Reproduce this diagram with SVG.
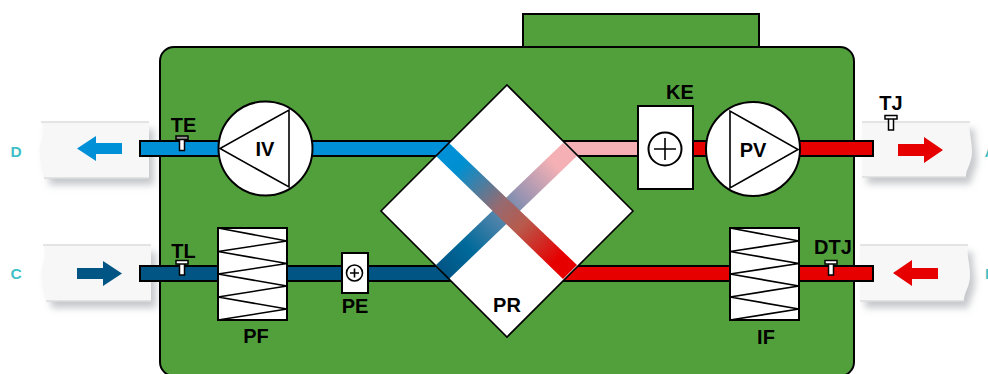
<svg xmlns="http://www.w3.org/2000/svg" xmlns:xlink="http://www.w3.org/1999/xlink" width="988" height="374" viewBox="0 0 988 374">
<style>
text{font-family:"Liberation Sans",Arial,sans-serif;font-weight:700;font-size:20px;fill:#000;text-anchor:middle}
.port{font-size:15.5px;fill:#3fbfc6;text-anchor:start}
.box{fill:#fff;stroke:#000;stroke-width:2}
.line{fill:none;stroke:#000;stroke-width:2;stroke-linejoin:miter}
.thin{fill:none;stroke:#000;stroke-width:1.600;stroke-linejoin:miter}
.green{fill:#52a03c;stroke:#000;stroke-width:2}
.panel{fill:#f7f7f7}
.edge{fill:none;stroke:#dcdddd;stroke-width:1.500}
.duct{stroke:#000;stroke-width:2}
.cold{fill:#0090d8}.dark{fill:#005585}.red{fill:#e60000}.pink{fill:#f4b0b4}
.thead{fill:#fff;stroke:#000;stroke-width:1.500}
.tstem{fill:#fff;stroke:#000;stroke-width:1.500}
</style>
<defs>
<filter id="sh" x="-20%" y="-30%" width="140%" height="170%">
<feGaussianBlur in="SourceAlpha" stdDeviation="3.500"/>
<feOffset dx="5" dy="7"/>
<feColorMatrix values="0 0 0 0 .45 0 0 0 0 .47 0 0 0 0 .5 0 0 0 .75 0"/>
<feMerge><feMergeNode/><feMergeNode in="SourceGraphic"/></feMerge>
</filter>
<linearGradient id="g1" gradientUnits="userSpaceOnUse" x1="443" y1="150" x2="570" y2="272">
<stop offset="0" stop-color="#0090d8"/><stop offset=".14" stop-color="#0090d0"/><stop offset=".45" stop-color="#976a70"/><stop offset=".62" stop-color="#b85a4c"/><stop offset=".9" stop-color="#e60000"/><stop offset="1" stop-color="#e60000"/>
</linearGradient>
<linearGradient id="g2" gradientUnits="userSpaceOnUse" x1="443" y1="272" x2="570" y2="150">
<stop offset="0" stop-color="#005585"/><stop offset=".2" stop-color="#006a9a"/><stop offset=".45" stop-color="#5585ab"/><stop offset=".62" stop-color="#9a94b2"/><stop offset=".88" stop-color="#f4b0b4"/><stop offset="1" stop-color="#f4b0b4"/>
</linearGradient>
<clipPath id="dc"><path d="M507 85L633 211L507 337L381 211Z"/></clipPath>
<path id="zig" d="M0 0L69 13L0 23.500L69 35.500L0 46L69 58L0 69L69 81L0 92"/>
</defs>

<g id="panels">
<path class="panel" filter="url(#sh)" d="M41 122H149V178H44C46 172 39.500 162 39.500 150C39.500 140 46 134 41 122Z"/>
<path class="edge" d="M41 122H149M44 178H149"/>
<path class="panel" filter="url(#sh)" d="M43 245H151V301H46C48 295 41.500 285 41.500 273C41.500 263 48 257 43 245Z"/>
<path class="edge" d="M43 245H151M46 301H151"/>
<path class="panel" filter="url(#sh)" d="M862 122H970C968 130 972 140 972 152C972 164 965 170 966 177H862Z"/>
<path class="edge" d="M862 122H970M862 177H966"/>
<path class="panel" filter="url(#sh)" d="M860 245H968C966 253 970 263 970 275C970 287 963 294 964 301H860Z"/>
<path class="edge" d="M860 245H968M860 301H964"/>
</g>

<g id="cabinet">
<rect class="green" x="523" y="14" width="236" height="34"/>
<rect class="green" x="160" y="47" width="694" height="329" rx="14"/>
</g>

<g id="connectors">
<rect class="duct cold" x="140" y="141" width="310" height="15"/>
<rect class="duct dark" x="140" y="266" width="310" height="15"/>
<rect class="duct pink" x="560" y="141" width="80" height="15"/>
<rect class="duct red" x="690" y="141" width="183" height="15"/>
<rect class="duct red" x="560" y="266" width="313" height="15"/>
</g>

<g id="arrows">
<path class="cold" d="M77 148.500L96 136V143H122V154H96V161Z"/>
<path class="dark" d="M77 268H103V261L122 273.500L103 286V279H77Z"/>
<path class="red" d="M898 144H924V137L943 150L924 163V156H898Z"/>
<path class="red" d="M893 273L912 260V268H938V279H912V286Z"/>
</g>

<g id="PR">
<path fill="#fff" d="M507 85L633 211L507 337L381 211Z"/>
<g clip-path="url(#dc)">
<path fill="url(#g2)" d="M563 143L577 156L449 279L436 265Z"/>
<path fill="url(#g1)" d="M449 143L436 156L563 279L577 265Z"/>
</g>
<path class="thin" d="M507 85L633 211L507 337L381 211Z"/>
<text x="507" y="312">PR</text>
</g>

<g id="IV">
<circle class="box" cx="265.500" cy="148.500" r="47"/>
<path class="thin" d="M289 110V187L220 148.500Z"/>
<text x="265" y="156">IV</text>
</g>

<g id="PV">
<circle class="box" cx="753" cy="149" r="47"/>
<path class="thin" d="M730 111V188L798 149.500Z"/>
<text x="753" y="157">PV</text>
</g>

<g id="KE">
<rect class="box" x="638" y="106" width="55" height="83"/>
<circle class="line" cx="665" cy="149" r="16.500"/>
<path class="thin" d="M654 149H676M665 138V160"/>
<text x="680" y="99">KE</text>
</g>

<g id="PE">
<rect class="box" x="342" y="253" width="26" height="40"/>
<circle class="thin" cx="354.500" cy="273" r="8"/>
<path class="thin" d="M350 273H359M354.500 268.500V277.500"/>
<text x="355" y="313">PE</text>
</g>

<g id="PF">
<rect class="box" x="218" y="228" width="69" height="92"/>
<use xlink:href="#zig" href="#zig" x="218" y="228" class="thin"/>
<text x="256" y="343">PF</text>
</g>

<g id="IF">
<rect class="box" x="730" y="228" width="69" height="92"/>
<use xlink:href="#zig" href="#zig" x="730" y="228" class="thin"/>
<text x="766" y="344">IF</text>
</g>

<g id="TE">
<text x="183.500" y="132">TE</text>
<rect class="tstem" x="179.500" y="138" width="5" height="12.500"/>
<rect class="thead" x="176" y="136" width="12" height="3.500" style="fill:#999"/>
</g>
<g id="TL">
<text x="183.500" y="258">TL</text>
<rect class="tstem" x="179.500" y="262" width="5" height="13"/>
<rect class="thead" x="176" y="260.500" width="12" height="3.500"/>
</g>
<g id="TJ">
<text x="891" y="110">TJ</text>
<rect class="tstem" x="888.500" y="117" width="5" height="13"/>
<rect class="thead" x="885" y="115.500" width="12" height="3.500"/>
</g>
<g id="DTJ">
<text x="833" y="254">DTJ</text>
<rect class="tstem" x="828.500" y="262" width="5" height="13"/>
<rect class="thead" x="825" y="260.500" width="12" height="3.500"/>
</g>

<g id="ports">
<text class="port" x="10.500" y="157">D</text>
<text class="port" x="10.500" y="279">C</text>
<text class="port" x="984.500" y="157">A</text>
<text class="port" x="985" y="279">B</text>
</g>
</svg>
